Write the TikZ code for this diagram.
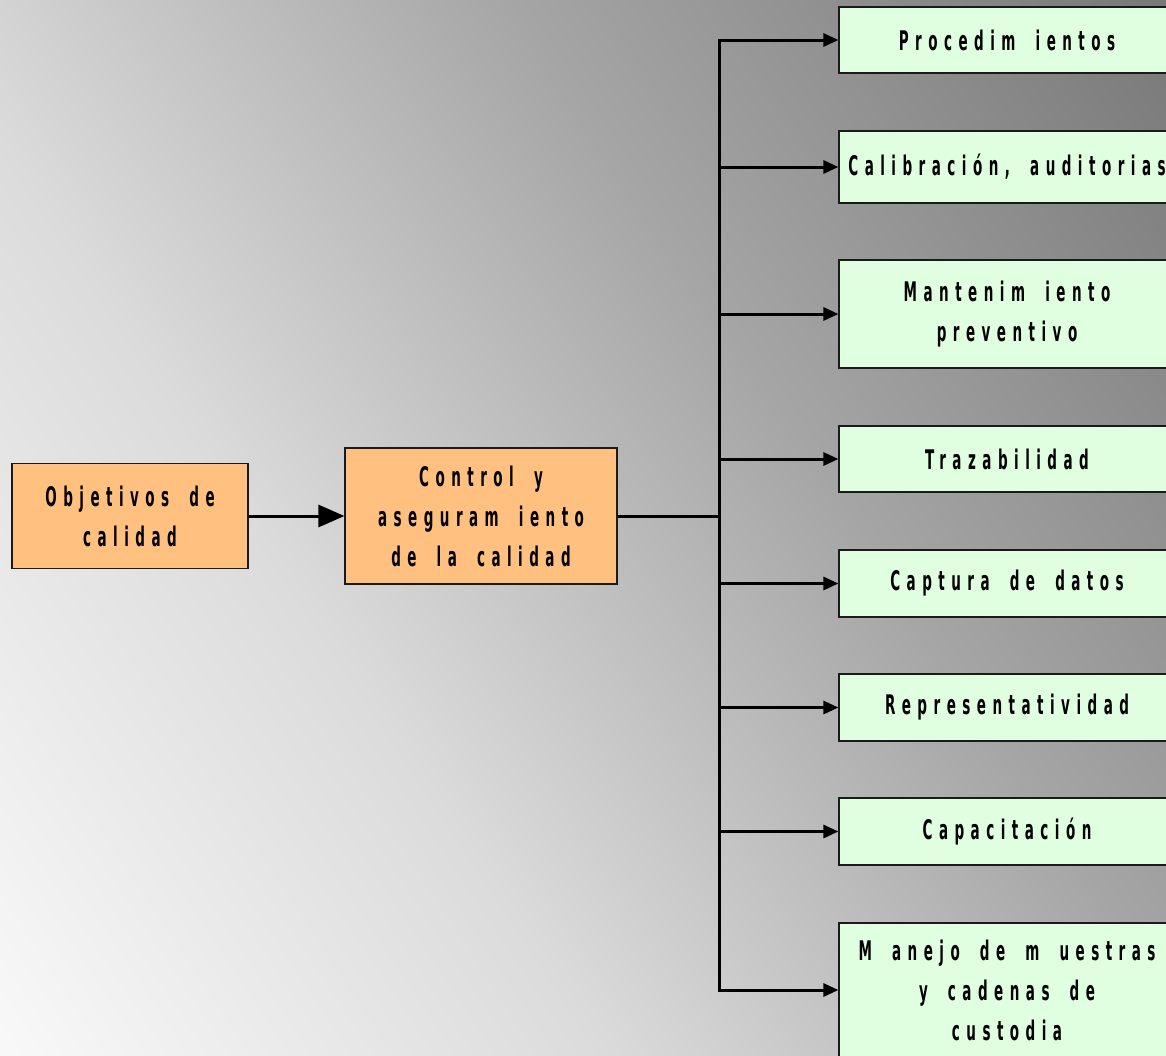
\documentclass[tikz,border=0pt]{standalone}
\usepackage{fontspec}
\usetikzlibrary{arrows.meta}
\newfontfamily\df[FakeStretch=0.5,LetterSpace=24,WordSpace=1.8]{DejaVu Sans Bold}
\definecolor{obox}{HTML}{FFC080}
\definecolor{gbox}{HTML}{E0FFE0}
\definecolor{edge}{HTML}{1A1A1A}
\definecolor{bglight}{gray}{0.975}
\definecolor{bgmid}{gray}{0.86}
\definecolor{bgmid2}{gray}{0.65}
\definecolor{bgdark}{gray}{0.47}
\pgfdeclarehorizontalshading{bgh}{1800bp}{color(0bp)=(bglight); color(20bp)=(bglight); color(520bp)=(bgmid); color(1020bp)=(bgmid2); color(1575bp)=(bgdark); color(1620bp)=(bgdark)}
\tikzset{
  ob/.style={draw=edge, line width=1.2pt, fill=obox, align=center, font=\df\fontsize{27}{40}\selectfont, inner sep=0pt},
  gb/.style={draw=edge, line width=1.2pt, fill=gbox, align=center, font=\df\fontsize{27}{40}\selectfont, inner sep=0pt, minimum width=336pt},
  conn/.style={line width=3pt, draw=black},
  bigarr/.style={conn, -{Triangle[length=26pt,width=22pt]}},
  smarr/.style={conn, -{Triangle[length=15pt,width=13pt]}}
}
\begin{document}
\begin{tikzpicture}[x=1pt,y=-1pt]
\useasboundingbox (0,0) rectangle (1166,1055);
\clip (0,0) rectangle (1166,1055);
\node[inner sep=0pt, outer sep=0pt, anchor=west, rotate=33.5] (bgshading) at (-16.7,1066) {\pgfuseshading{bgh}};
\node[ob, minimum width=236pt, minimum height=105pt] (obj) at (130,516) {Objetivos de\\calidad};
\node[ob, minimum width=272pt, minimum height=136pt] (ctl) at (481,516) {Control y\\aseguram iento\\de la calidad};
\coordinate (trunk) at (719,516);
\node[gb, minimum height=66pt] (p1) at (1007,40) {Procedim ientos};
\node[gb, minimum height=72pt] (p2) at (1007,167) {Calibración, auditorias};
\node[gb, minimum height=108pt] (p3) at (1007,314) {Mantenim iento\\preventivo};
\node[gb, minimum height=66pt] (p4) at (1007,459) {Trazabilidad};
\node[gb, minimum height=67pt] (p5) at (1007,583.5) {Captura de datos};
\node[gb, minimum height=67pt] (p6) at (1007,707.5) {Representatividad};
\node[gb, minimum height=67pt] (p7) at (1007,831.5) {Capacitación};
\node[gb, minimum height=134pt] (p8) at (1007,990) {M anejo de m uestras\\y cadenas de\\custodia};
\draw[bigarr] (obj.east) -- (ctl.west);
\draw[conn] (ctl.east) -- (trunk);
\draw[conn, line cap=rect] (trunk |- p1.west) -- (trunk |- p8.west);
\foreach \n in {p1,p2,p3,p4,p5,p6,p7,p8}
  \draw[smarr] (trunk |- \n.west) -- (\n.west);
\end{tikzpicture}
\end{document}
